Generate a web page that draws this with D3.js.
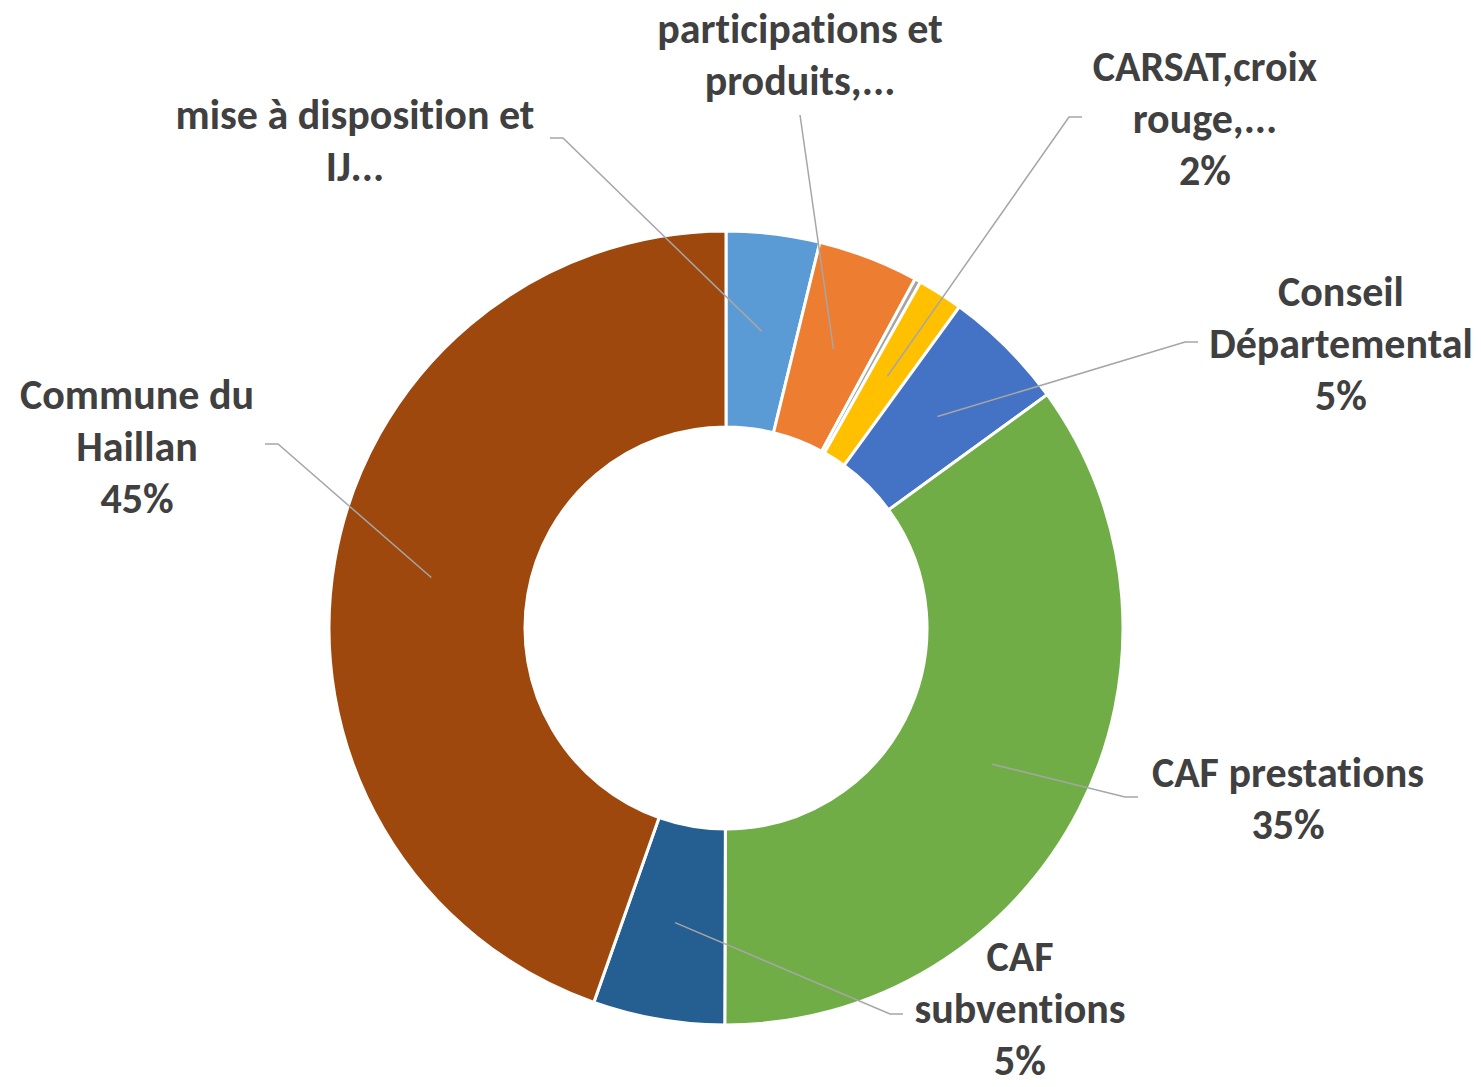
<!DOCTYPE html>
<html>
<head>
<meta charset="utf-8">
<script src="https://cdn.jsdelivr.net/npm/d3@7"></script>
<style>
body { margin: 0; background: #fff; }
text { font-family: Carlito, Calibri, Lato, sans-serif; font-weight: bold; fill: #404040; font-variant-ligatures: none; }
</style>
</head>
<body>
<script>
var width = 1481, height = 1087;
var cx = 726, cy = 628;
var outerR = 397, innerR = 201;

var categories = ["mise à disposition et IJ...", "participations et produits,...", "autres", "CARSAT,croix rouge,...",
  "Conseil Départemental", "CAF prestations", "CAF subventions", "Commune du Haillan"];
var values = [3.8, 4.1, 0.25, 1.85, 5.0, 35.05, 5.35, 44.6];
var colors = ["#5B9BD5", "#ED7D31", "#A5A5A5", "#FFC000", "#4472C4", "#70AD47", "#255E91", "#9E480E"];

// label text split in lines, and whether the percentage is shown
var labelLines = [
  ["mise à disposition et", "IJ..."],
  ["participations et", "produits,..."],
  [],
  ["CARSAT,croix", "rouge,..."],
  ["Conseil", "Départemental"],
  ["CAF prestations"],
  ["CAF", "subventions"],
  ["Commune du", "Haillan"]
];
var showPct = [false, false, false, true, true, true, true, true];

// label block centre (x, first line y) and leader elbow (x, y, side)
var labelPos = [
  [355, 114, 550, 138, 1],
  [800, 28, 800, 115, 0],
  null,
  [1205, 66, 1082, 117, -1],
  [1341, 291, 1198, 342, -1],
  [1288, 772, 1138, 797, -1],
  [1020, 956, 903, 1014, -1],
  [137, 394, 265, 444, 1]
];
var lineGap = 52;

var svg = d3.select("body").append("svg")
  .attr("width", width)
  .attr("height", height);

var g = svg.append("g").attr("transform", "translate(" + cx + "," + cy + ")");

var pie = d3.pie().sort(null).value(function(d) { return d; });
var arcs = pie(values);
var total = d3.sum(values);

var arc = d3.arc().innerRadius(innerR).outerRadius(outerR);
var midArc = d3.arc().innerRadius(299).outerRadius(299);

g.selectAll("path.slice")
  .data(arcs)
  .enter().append("path")
  .attr("class", "slice")
  .attr("d", arc)
  .attr("fill", function(d, i) { return colors[i]; })
  .attr("stroke", "#fff")
  .attr("stroke-width", 3);

// leader lines
arcs.forEach(function(d, i) {
  var p = labelPos[i];
  if (!p) return;
  var c = midArc.centroid(d);
  var pts;
  if (p[4] === 0) {
    pts = [[p[2] - cx, p[3] - cy], c];
  } else {
    pts = [[p[2] - cx, p[3] - cy], [p[2] - cx + p[4] * 13, p[3] - cy], c];
  }
  g.append("path")
    .attr("d", d3.line()(pts))
    .attr("fill", "none")
    .attr("stroke", "#A6A6A6")
    .attr("stroke-width", 1.5);
});

// labels
var pct = d3.format(".0%");
arcs.forEach(function(d, i) {
  var p = labelPos[i];
  if (!p) return;
  var lines = labelLines[i].slice();
  if (showPct[i]) lines.push(pct(d.value / total));
  var t = svg.append("text")
    .attr("text-anchor", "middle")
    .attr("font-size", 42);
  lines.forEach(function(s, k) {
    t.append("tspan")
      .attr("x", p[0])
      .attr("y", p[1] + k * lineGap)
      .attr("dy", "0.35em")
      .text(s);
  });
});
</script>
</body>
</html>
